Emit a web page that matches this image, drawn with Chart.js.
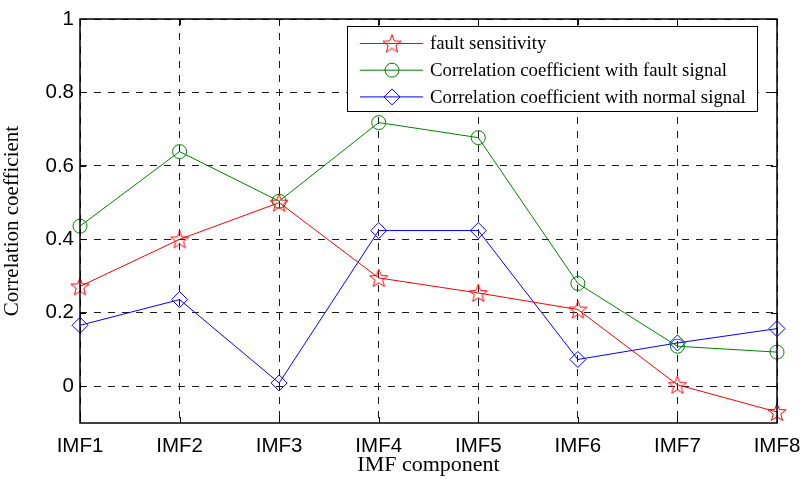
<!DOCTYPE html>
<html>
<head>
<meta charset="utf-8">
<script src="https://cdn.jsdelivr.net/npm/chart.js@4"></script>
<style>
  html, body { margin: 0; padding: 0; background: #fff; }
  #wrap { width: 802px; height: 479px; }
</style>
</head>
<body>
<div id="wrap"><canvas id="chart" width="802" height="479"></canvas></div>
<script>
const components = ['IMF1', 'IMF2', 'IMF3', 'IMF4', 'IMF5', 'IMF6', 'IMF7', 'IMF8'];
const faultSensitivity = [0.272, 0.40, 0.50, 0.295, 0.254, 0.209, 0.004, -0.07];
const corrFault = [0.436, 0.639, 0.504, 0.718, 0.677, 0.28, 0.109, 0.093];
const corrNormal = [0.166, 0.236, 0.009, 0.424, 0.424, 0.073, 0.118, 0.157];
const yTicks = [0, 0.2, 0.4, 0.6, 0.8, 1];

const serif = '"Liberation Serif", "Times New Roman", serif';
const sans = '"Liberation Sans", Arial, sans-serif';

// hollow five-pointed star used as a point style
function makeStar(color) {
  const size = 22;
  const c = document.createElement('canvas');
  c.width = size;
  c.height = size;
  const g = c.getContext('2d');
  const cx = size / 2, cy = size / 2 + 0.8;
  const outer = 9.5, inner = 4;
  g.beginPath();
  for (let i = 0; i < 10; i++) {
    const r = i % 2 === 0 ? outer : inner;
    const a = -Math.PI / 2 + i * Math.PI / 5;
    const px = cx + r * Math.cos(a);
    const py = cy + r * Math.sin(a);
    if (i === 0) g.moveTo(px, py); else g.lineTo(px, py);
  }
  g.closePath();
  g.strokeStyle = color;
  g.lineWidth = 1;
  g.stroke();
  return c;
}

const starRed = makeStar('#ff0000');

const series = [
  { label: 'fault sensitivity', data: faultSensitivity, color: '#ff0000', style: starRed, radius: 9 },
  { label: 'Correlation coefficient with fault signal', data: corrFault, color: '#008000', style: 'circle', radius: 7 },
  { label: 'Correlation coefficient with normal signal', data: corrNormal, color: '#0000ff', style: 'rectRot', radius: 8 }
];

const frameAndLegend = {
  id: 'frameAndLegend',
  afterDraw(chart) {
    const { ctx, chartArea: a } = chart;
    const xs = chart.scales.x, ys = chart.scales.y;
    ctx.save();
    ctx.strokeStyle = '#000';
    ctx.setLineDash([]);

    // inward tick marks, matlab style
    ctx.lineWidth = 1;
    ctx.beginPath();
    xs.ticks.forEach((t, i) => {
      const x = Math.round(xs.getPixelForTick(i)) + 0.5;
      ctx.moveTo(x, a.bottom); ctx.lineTo(x, a.bottom - 6);
      ctx.moveTo(x, a.top); ctx.lineTo(x, a.top + 6);
    });
    ys.ticks.forEach((t) => {
      const y = Math.round(ys.getPixelForValue(t.value)) + 0.5;
      ctx.moveTo(a.left, y); ctx.lineTo(a.left + 6, y);
      ctx.moveTo(a.right, y); ctx.lineTo(a.right - 6, y);
    });
    ctx.stroke();

    ctx.lineWidth = 1.5;
    ctx.strokeRect(a.left, a.top, a.right - a.left, a.bottom - a.top);

    // legend box
    const box = { x: 347, y: 26, w: 410, h: 85 };
    ctx.fillStyle = '#fff';
    ctx.fillRect(box.x, box.y, box.w, box.h);
    ctx.lineWidth = 1;
    ctx.strokeRect(box.x + 0.5, box.y + 0.5, box.w, box.h);
    ctx.font = '18.8px ' + serif;
    ctx.textBaseline = 'middle';
    series.forEach((s, i) => {
      const y = 43.5 + i * 26.7;
      ctx.strokeStyle = s.color;
      ctx.lineWidth = 1;
      ctx.beginPath();
      ctx.moveTo(360, y);
      ctx.lineTo(423, y);
      ctx.stroke();
      if (s.style === 'circle') {
        ctx.beginPath();
        ctx.arc(392, y, 7, 0, Math.PI * 2);
        ctx.stroke();
      } else if (s.style === 'rectRot') {
        ctx.beginPath();
        ctx.moveTo(392, y - 8);
        ctx.lineTo(400, y);
        ctx.lineTo(392, y + 8);
        ctx.lineTo(384, y);
        ctx.closePath();
        ctx.stroke();
      } else {
        ctx.drawImage(s.style, 392 - s.style.width / 2, y - s.style.height / 2);
      }
      ctx.fillStyle = '#000';
      ctx.fillText(s.label, 430, y + 1);
    });
    ctx.restore();
  }
};

new Chart(document.getElementById('chart'), {
  type: 'line',
  data: {
    labels: components,
    datasets: series.map((s) => ({
      label: s.label,
      data: s.data,
      borderColor: s.color,
      backgroundColor: 'transparent',
      borderWidth: 1,
      tension: 0,
      pointStyle: s.style,
      pointRadius: s.radius,
      pointBorderWidth: 1,
      pointBorderColor: s.color,
      pointBackgroundColor: 'transparent',
      fill: false
    }))
  },
  options: {
    responsive: false,
    animation: false,
    layout: { padding: { left: 0, right: 25, top: 19, bottom: 0 } },
    plugins: {
      legend: { display: false },
      tooltip: { enabled: false }
    },
    scales: {
      x: {
        offset: false,
        grid: {
          color: '#1a1a1a',
          lineWidth: 1,
          drawTicks: false
        },
        border: { display: false, dash: [7, 7] },
        ticks: {
          color: '#000',
          font: { family: sans, size: 20.5 },
          padding: 11,
          maxRotation: 0
        },
        title: {
          display: true,
          text: 'IMF component',
          color: '#000',
          font: { family: serif, size: 22 },
          padding: { top: 0, bottom: 1 }
        },
        afterFit: (scale) => {
          scale.height = 56;
          scale.paddingLeft = 0;
          scale.paddingRight = 0;
        }
      },
      y: {
        min: -0.1,
        max: 1,
        afterBuildTicks: (scale) => { scale.ticks = yTicks.map((v) => ({ value: v })); },
        grid: {
          color: '#1a1a1a',
          lineWidth: 1,
          drawTicks: false
        },
        border: { display: false, dash: [7, 7] },
        ticks: {
          color: '#000',
          font: { family: sans, size: 20.5 },
          padding: 6,
          callback: (v) => String(Math.round(v * 10) / 10)
        },
        title: {
          display: true,
          text: 'Correlation coefficient',
          color: '#000',
          font: { family: serif, size: 21 },
          padding: { top: 0, bottom: 4 }
        },
        afterFit: (scale) => { scale.width = 80; }
      }
    }
  },
  plugins: [frameAndLegend]
});
</script>
</body>
</html>
